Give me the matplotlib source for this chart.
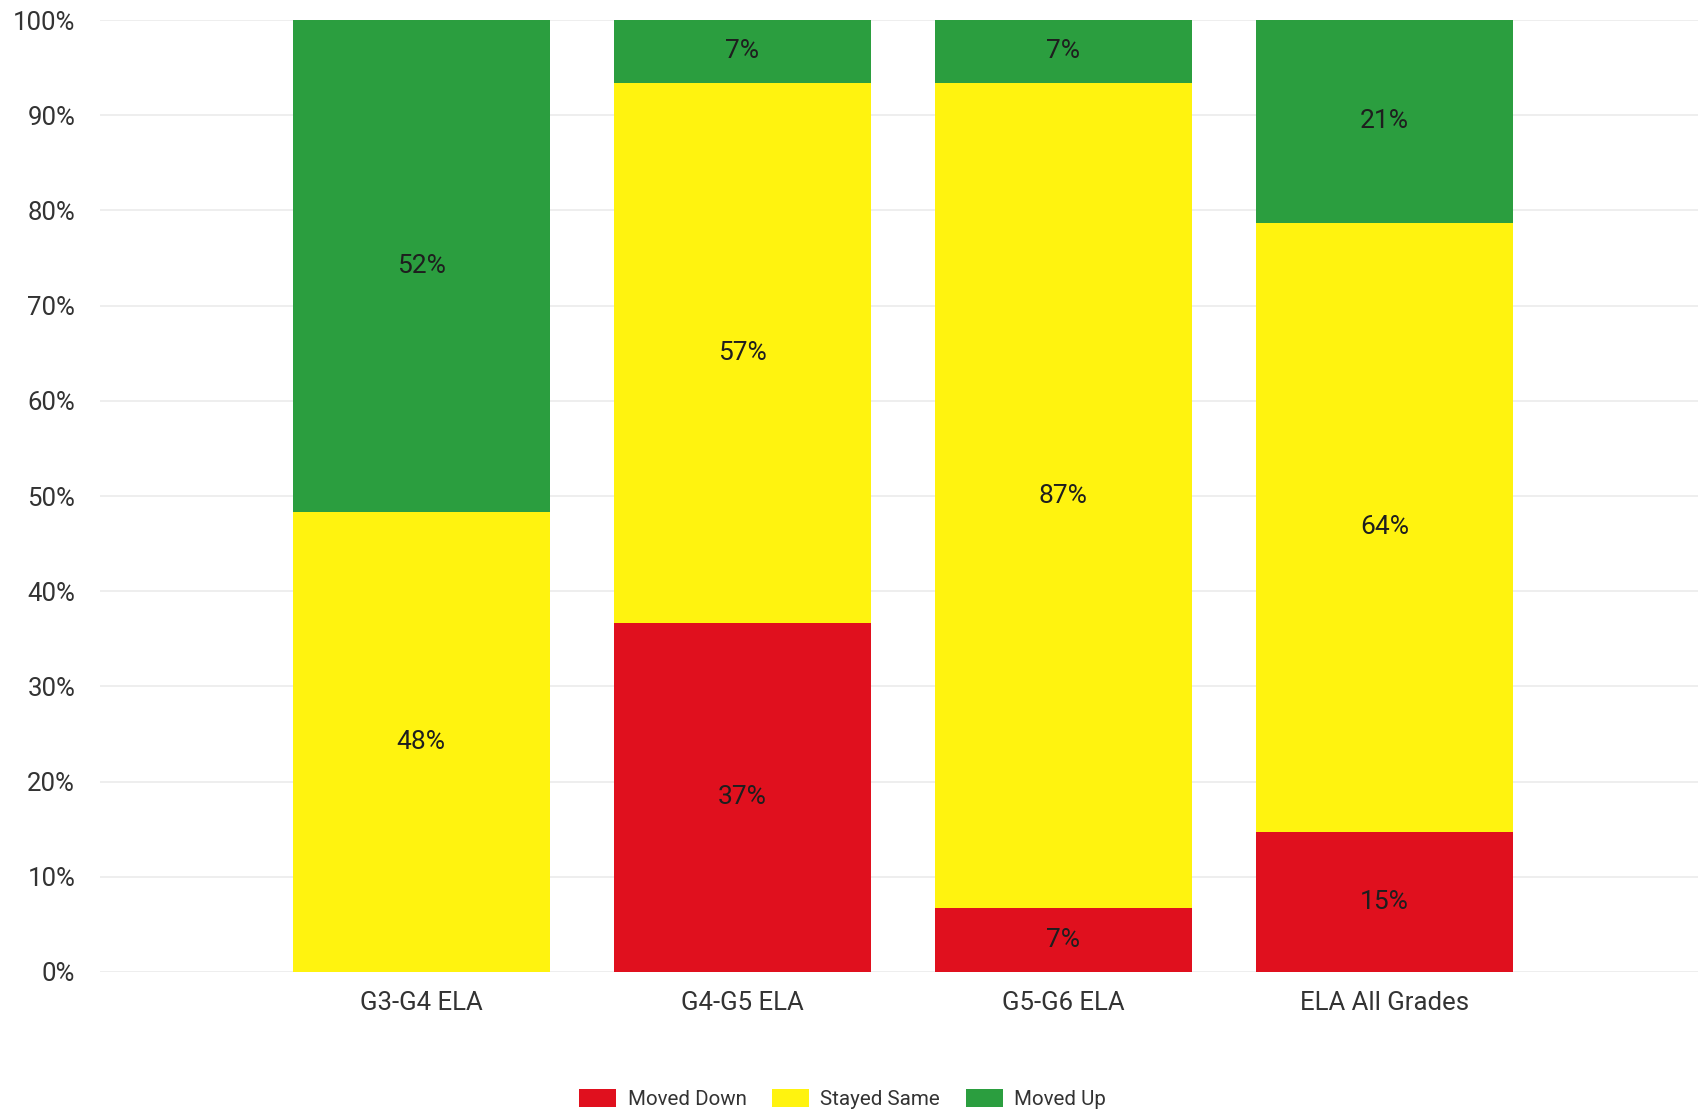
import numpy as np
import matplotlib.pyplot as plt
from matplotlib.patches import Patch

plt.rcParams['font.family'] = ['Roboto', 'DejaVu Sans']

# data (percent of students)
categories = ['G3-G4 ELA', 'G4-G5 ELA', 'G5-G6 ELA', 'ELA All Grades']
moved_down = [0.0, 36.7, 6.7, 14.7]
stayed_same = [48.3, 56.7, 86.7, 64.0]
moved_up = [51.7, 6.6, 6.6, 21.3]
series_names = ['Moved Down', 'Stayed Same', 'Moved Up']
colors = ['#e0101e', '#fff30f', '#2b9e3f']

fig = plt.figure(figsize=(16.99, 11.13), dpi=100)
ax = fig.add_axes([0.059, 0.1267, 0.941, 0.8553])

x = np.arange(len(categories))
bottom = np.zeros(len(categories))
for vals, name, c in zip([moved_down, stayed_same, moved_up], series_names, colors):
    vals = np.array(vals)
    ax.bar(x, vals, 0.8, bottom=bottom, color=c, label=name, zorder=2)
    for xi, b, v in zip(x, bottom, vals):
        if v > 0:
            ax.text(xi, b + v / 2, f'{v:.0f}%', ha='center', va='center',
                    fontsize=19, color='#1e1e1e', zorder=3)
    bottom += vals

ax.set_xlim(-1.0, 3.98)
ax.set_ylim(0, 100)
ax.set_yticks(np.arange(0, 101, 10))
ax.set_yticklabels([f'{t}%' for t in range(0, 101, 10)])
ax.set_xticks(x)
ax.set_xticklabels(categories)
ax.tick_params(axis='both', length=0, labelsize=18.5, colors='#333333')
ax.tick_params(axis='x', pad=14)
ax.tick_params(axis='y', pad=18)
ax.yaxis.grid(True, color='#ebebeb', linewidth=1.2, zorder=0)
for s in ax.spines.values():
    s.set_visible(False)

handles = [Patch(facecolor=c, label=n) for c, n in zip(colors, series_names)]
fig.legend(handles=handles, loc='lower center', bbox_to_anchor=(0.496, -0.013), ncol=3,
           frameon=False, fontsize=14.8, handlelength=1.8, handleheight=1.0,
           columnspacing=1.25, handletextpad=0.55, labelcolor='#333333')

fig.savefig('out.png', dpi=100)
